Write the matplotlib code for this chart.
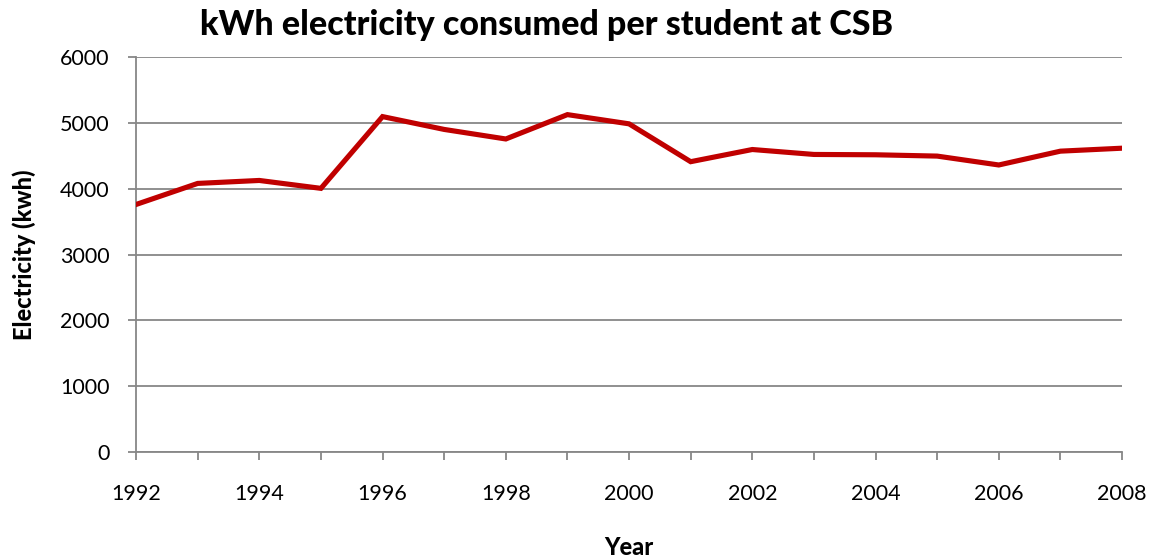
import matplotlib
matplotlib.use("Agg")
import matplotlib.pyplot as plt
from matplotlib.ticker import MultipleLocator

years = [1992, 1993, 1994, 1995, 1996, 1997, 1998, 1999, 2000,
         2001, 2002, 2003, 2004, 2005, 2006, 2007, 2008]
kwh_per_student = [3760, 4080, 4125, 4005, 5095, 4900, 4755, 5125, 4985,
                   4410, 4595, 4520, 4515, 4495, 4360, 4570, 4615]

title = "kWh electricity consumed per student at CSB"
x_label = "Year"
y_label = "Electricity (kwh)"

plt.rcParams['font.family'] = ['Lato', 'DejaVu Sans']

fig = plt.figure(figsize=(11.54, 5.59), dpi=100)
ax = fig.add_axes([0.1179, 0.1914, 0.8544, 0.7066])

grid_col = "#878787"
ax.plot(years, kwh_per_student, color="#C00000", linewidth=3.7,
        solid_joinstyle="miter", zorder=3)

ax.set_xlim(1992, 2008)
ax.set_ylim(0, 6000)
ax.xaxis.set_major_locator(MultipleLocator(2))
ax.xaxis.set_minor_locator(MultipleLocator(1))
ax.yaxis.set_major_locator(MultipleLocator(1000))

ax.grid(axis="y", color=grid_col, linewidth=1.3)
ax.set_axisbelow(True)
for s in ("top", "right"):
    ax.spines[s].set_visible(False)
for s in ("left", "bottom"):
    ax.spines[s].set_color(grid_col)
    ax.spines[s].set_linewidth(1.3)

ax.tick_params(axis="both", which="both", color=grid_col, width=1.3,
               length=6, labelsize=15.5, direction="out")
ax.tick_params(axis="x", which="major", pad=17)
ax.tick_params(axis="y", pad=13)

ax.set_title(title, fontsize=24.5, fontweight="black", pad=16, x=0.416)
ax.set_xlabel(x_label, fontsize=17, fontweight="black", labelpad=23)
ax.set_ylabel(y_label, fontsize=17, fontweight="black", labelpad=17)

fig.savefig("out.png", dpi=100)
